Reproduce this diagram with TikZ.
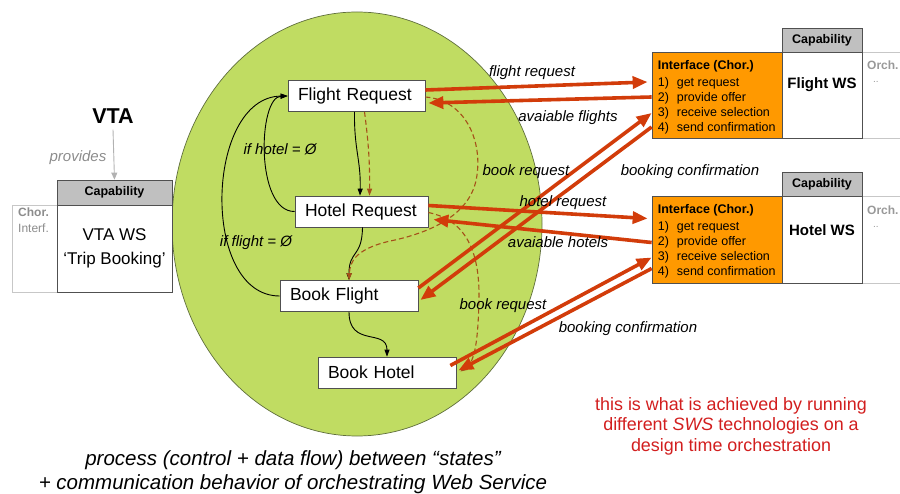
\documentclass[tikz,border=0pt]{standalone}
\usepackage{fontspec}
\setmainfont{Liberation Sans}
\usetikzlibrary{arrows.meta,shapes.geometric}
\definecolor{ovalgreen}{RGB}{192,220,98}
\definecolor{ovaledge}{RGB}{95,110,60}
\definecolor{ifaceorange}{RGB}{255,153,0}
\definecolor{msgred}{RGB}{210,60,10}
\definecolor{dataflow}{RGB}{165,80,25}
\definecolor{capgray}{RGB}{192,192,192}
\definecolor{notered}{RGB}{210,30,30}
\definecolor{faintgray}{RGB}{150,150,150}
\definecolor{boxedge}{RGB}{80,80,80}

\begin{document}
\begin{tikzpicture}[x=1pt,y=-1pt,
  state/.style={draw=boxedge, fill=white, line width=0.7pt, minimum height=31pt,
    inner xsep=10pt, align=left, font=\fontsize{17.5}{20}\selectfont},
  capbox/.style={draw=boxedge, fill=capgray, line width=0.7pt, minimum width=80pt,
    minimum height=24pt, inner sep=0pt, font=\fontsize{12.5}{14}\bfseries},
  wsbox/.style={draw=boxedge, fill=white, line width=0.7pt, minimum width=80pt,
    minimum height=86pt, inner sep=0pt},
  iface/.style={draw=boxedge, fill=ifaceorange, line width=0.7pt, minimum width=130pt,
    minimum height=86pt, inner sep=0pt},
  ifacetext/.style={anchor=north west, align=left, inner sep=0pt,
    font=\fontsize{12.5}{15}\selectfont},
  sidebox/.style={draw=black!22, line width=0.7pt, inner sep=0pt},
  msg/.style={draw=msgred, line width=3.6pt, -{Triangle[length=15pt,width=12pt]}},
  ctrl/.style={draw=black, line width=0.9pt, -{Triangle[length=7pt,width=5pt]}},
  dflow/.style={draw=dataflow, line width=1.1pt, dash pattern=on 5pt off 3pt,
    -{Triangle[length=7pt,width=5pt]}},
  lbl/.style={font=\fontsize{15}{17}\itshape, inner sep=0pt},
  tiny/.style={inner sep=0pt}]

\useasboundingbox (0,0) rectangle (900,494);

% orchestration oval
\node[ellipse, draw=ovaledge, fill=ovalgreen, line width=0.7pt,
  minimum width=370pt, minimum height=424pt, inner sep=0pt] (oval) at (357,224) {};

% states of the process
\node[state, text width=117pt] (FR) at (356.5,96) {Flight Request};
\node[state, text width=113pt] (HR) at (361.5,211.5) {Hotel Request};
\node[state, text width=118pt] (BF) at (349,296) {Book Flight};
\node[state, text width=118pt] (BH) at (387,372.5) {Book Hotel};

% control flow
\draw[ctrl] ([xshift=-2pt]FR.south) .. controls (354,150) and (361,160) .. ([xshift=-1.5pt]HR.north);
\draw[ctrl] ([xshift=1pt]HR.south) .. controls (362,258) and (349,250) .. (BF.north);
\draw[ctrl] (BF.south) .. controls (349,348) and (387,328) .. (BH.north);
\draw[ctrl] (HR.west) .. controls (255,212) and (258,97) .. (FR.west);
\draw[ctrl] (BF.west) .. controls (200,296) and (205,97) .. (FR.west);
\node[lbl] (ifhotel) at (280,149) {if hotel = Ø};
\node[lbl] (ifflight) at (256,243) {if flight = Ø};

% data flow
\draw[dflow] ([xshift=8pt]FR.south) to[bend left=4] ([xshift=8pt]HR.north);
\draw[dflow] ([yshift=-1pt]FR.east) .. controls (465,100) and (482,140) .. (477,175)
  .. controls (472,215) and (430,232) .. (395,240)
  .. controls (355,248) and (350,262) .. (BF.north);
\draw[dflow] ([yshift=-1pt]HR.east) .. controls (465,220) and (480,250) .. (479,300)
  .. controls (478,340) and (475,362) .. ([xshift=4pt,yshift=1pt]BH.east);

% VTA web service
\node[font=\fontsize{21.5}{24}\bfseries, inner sep=0pt] (vta) at (113,116) {VTA};
\node[sidebox, minimum width=45pt, minimum height=87pt] (vtaside) at (34.5,248.5) {};
\node[anchor=north west, align=left, inner sep=0pt, text=black!45,
  font=\fontsize{12}{16}\selectfont] (vtachor) at (18,208) {\textbf{Chor.}\\Interf.};
\node[capbox, minimum width=115pt, minimum height=25pt] (vtacap) at (114.5,192.5) {Capability};
\node[wsbox, minimum width=115pt, minimum height=87pt, align=center,
  font=\fontsize{17}{24}\selectfont] (vtaws) at (114.5,248.5) {VTA WS\\‘Trip Booking’};
\draw[draw=black!30, line width=0.9pt, -{Triangle[length=7pt,width=6pt]}]
  ([yshift=-6pt]vta.south) -- (vtacap.north);
\node[lbl, text=black!45] (provides) at (78,158) {provides};

% Flight web service
\node[sidebox, minimum width=48pt, minimum height=86pt, anchor=west] (orchf) at (862,95) {};
\node[iface] (IFf) at (717,95) {};
\node[wsbox] (WSf) at (822,95) {};
\node[capbox] (CAPf) at (822,40) {Capability};
\node[ifacetext] (IFftext) at ([xshift=6pt,yshift=-9pt]IFf.north west)
  {\textbf{Interface (Chor.)}\\[1.5pt]
   \makebox[19pt][l]{1)}get request\\
   \makebox[19pt][l]{2)}provide offer\\
   \makebox[19pt][l]{3)}receive selection\\
   \makebox[19pt][l]{4)}send confirmation};
\node[font=\fontsize{15}{17}\bfseries, inner sep=0pt] (WSfname) at (822,85) {Flight WS};
\node[anchor=west, tiny, text=black!40, font=\fontsize{12}{14}\bfseries] (orchfname) at (867,65) {Orch.};
\node[anchor=west, tiny, text=black!40, font=\fontsize{10}{12}\selectfont] (orchfdots) at (873,82) {..};

% Hotel web service
\node[sidebox, minimum width=48pt, minimum height=87pt, anchor=west] (orchh) at (862,239.5) {};
\node[iface, minimum height=87pt] (IFh) at (717,239.5) {};
\node[wsbox, minimum height=87pt] (WSh) at (822,239.5) {};
\node[capbox] (CAPh) at (822,184) {Capability};
\node[ifacetext] (IFhtext) at ([xshift=6pt,yshift=-9pt]IFh.north west)
  {\textbf{Interface (Chor.)}\\[1.5pt]
   \makebox[19pt][l]{1)}get request\\
   \makebox[19pt][l]{2)}provide offer\\
   \makebox[19pt][l]{3)}receive selection\\
   \makebox[19pt][l]{4)}send confirmation};
\node[font=\fontsize{15}{17}\bfseries, inner sep=0pt] (WShname) at (822,230) {Hotel WS};
\node[anchor=west, tiny, text=black!40, font=\fontsize{12}{14}\bfseries] (orchhname) at (867,210) {Orch.};
\node[anchor=west, tiny, text=black!40, font=\fontsize{10}{12}\selectfont] (orchhdots) at (873,227) {..};

% message exchange
\draw[msg] ([yshift=6pt]FR.east) -- ([xshift=-4pt,yshift=13pt]IFf.west);
\draw[msg] ([yshift=-2pt]IFf.west) -- ([xshift=3pt,yshift=-7pt]FR.east);
\draw[msg] ([yshift=8pt]BF.east) -- ([yshift=-18pt]IFf.west);
\draw[msg] ([yshift=-32pt]IFf.west) -- ([xshift=2pt,yshift=-4pt]BF.east);
\draw[msg] ([yshift=6pt]HR.east) -- ([xshift=-4pt,yshift=21pt]IFh.west);
\draw[msg] ([yshift=-3pt]IFh.west) -- ([xshift=5pt,yshift=-8pt]HR.east);
\draw[msg] ([xshift=-6pt,yshift=7pt]BH.east) -- ([yshift=-18pt]IFh.west);
\draw[msg] ([yshift=-29pt]IFh.west) -- ([xshift=2pt,yshift=2pt]BH.east);

\node[lbl] (m1) at (532,73) {flight request};
\node[lbl] (m2) at (568,118) {avaiable flights};
\node[lbl] (m3) at (526,172) {book request};
\node[lbl] (m4) at (690,172) {booking confirmation};
\node[lbl] (m5) at (563,203) {hotel request};
\node[lbl] (m6) at (558,242) {avaiable hotels};
\node[lbl] (m7) at (503,306) {book request};
\node[lbl] (m8) at (628,329) {booking confirmation};

% captions
\node[align=center, inner sep=0pt, font=\fontsize{20.5}{24}\itshape] (caption) at (293,472)
  {process (control + data flow) between “states”\\+ communication behavior of orchestrating Web Service};
\node[align=center, inner sep=0pt, text=notered, font=\fontsize{17.9}{20.5}\selectfont] (note) at (731,426)
  {this is what is achieved by running\\different \textit{SWS} technologies on a\\design time orchestration};
\end{tikzpicture}
\end{document}
